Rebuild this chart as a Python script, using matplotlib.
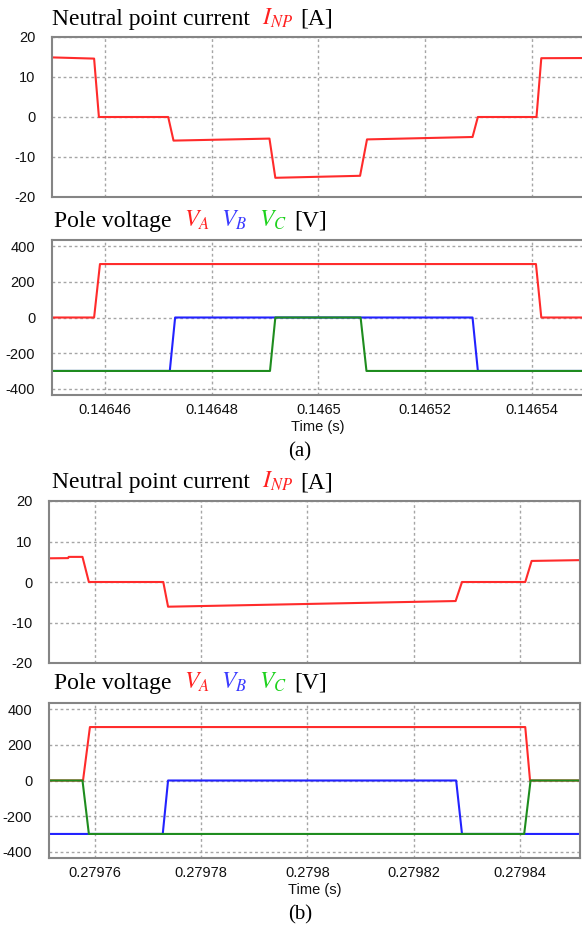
import matplotlib
matplotlib.use("Agg")
import matplotlib.pyplot as plt

# ---- data ----
# (a) neutral point current
ta_i = [0.14645, 0.1464579, 0.1464588, 0.1464718, 0.1464728, 0.1464908, 0.1464919,
        0.1465078, 0.1465091, 0.1465289, 0.1465299, 0.1465409, 0.1465418, 0.14656]
ia = [14.9, 14.6, 0.0, 0.0, -5.9, -5.4, -15.2, -14.7, -5.6, -5.0, 0.0, 0.0, 14.7, 14.8]

# (a) pole voltages
ta_va = [0.14645, 0.1464579, 0.146459, 0.1465408, 0.1465418, 0.14656]
va_a = [0, 0, 300, 300, 0, 0]
ta_vb = [0.14645, 0.1464721, 0.1464731, 0.1465289, 0.1465299, 0.14656]
vb_a = [-300, -300, 0, 0, -300, -300]
ta_vc = [0.14645, 0.1464909, 0.1464919, 0.1465079, 0.146509, 0.14656]
vc_a = [-300, -300, 0, 0, -300, -300]

# (b) neutral point current
tb_i = [0.2797514, 0.279755, 0.2797551, 0.2797577, 0.2797589, 0.2797729, 0.2797738,
        0.2798279, 0.2798291, 0.279841, 0.2798422, 0.2798513]
ib = [5.85, 5.9, 6.2, 6.2, 0.0, 0.0, -6.1, -4.7, 0.0, 0.0, 5.2, 5.4]

# (b) pole voltages
tb_va = [0.2797514, 0.2797578, 0.2797591, 0.279841, 0.2798419, 0.2798513]
va_b = [0, 0, 300, 300, 0, 0]
tb_vb = [0.2797514, 0.2797728, 0.2797738, 0.279828, 0.2798291, 0.2798513]
vb_b = [-300, -300, 0, 0, -300, -300]
tb_vc = [0.2797514, 0.2797577, 0.2797589, 0.2798408, 0.279842, 0.2798513]
vc_b = [0, 0, -300, -300, 0, 0]

xticks_a = [0.14646, 0.14648, 0.1465, 0.14652, 0.14654]
xticks_b = [0.27976, 0.27978, 0.2798, 0.27982, 0.27984]
xlim_a = (0.14645, 0.14655)
xlim_b = (0.2797514, 0.2798513)
yticks_i = [-20, -10, 0, 10, 20]
yticks_v = [-400, -200, 0, 200, 400]

W, H = 582, 931
RED, BLUE, GREEN = "#ff2b2b", "#2222ff", "#1e8c1e"

plt.rcParams["mathtext.fontset"] = "stix"
fig = plt.figure(figsize=(W / 100, H / 100), dpi=100)


def px_axes(l, t, r, b):
    return fig.add_axes([l / W, 1 - b / H, (r - l) / W, (b - t) / H])


def style(ax, xlim, xticks, ylim, yticks, show_x):
    ax.set_xlim(*xlim)
    ax.set_ylim(*ylim)
    ax.set_xticks(xticks)
    ax.set_xticklabels(["%g" % v for v in xticks] if show_x else [])
    ax.set_yticks(yticks)
    ax.set_yticklabels([str(v) for v in yticks])
    ax.tick_params(length=0, pad=12, labelsize=10.5, labelcolor="#111111")
    ax.tick_params(axis="x", pad=6)
    for lab in ax.get_xticklabels() + ax.get_yticklabels():
        lab.set_family("Liberation Sans")
    ax.grid(True, color="#a5a5a5", linestyle=(0, (2, 2)), linewidth=1.0)
    ax.set_axisbelow(True)
    for sp in ax.spines.values():
        sp.set_color("#858585")
        sp.set_linewidth(1.5)


def rich_text(x_px, y_px, parts):
    r = fig.canvas.get_renderer()
    x = x_px
    for s, c, gap in parts:
        t = fig.text(x / W, 1 - y_px / H, s, color=c, fontsize=17,
                     family="Liberation Serif", va="baseline", ha="left")
        bb = t.get_window_extent(renderer=r)
        x = bb.x1 + gap


# ---- panel (a) ----
ax1 = px_axes(52, 37, 585, 197)
ax1.plot(ta_i, ia, color=RED, lw=1.5)
style(ax1, xlim_a, xticks_a, (-20, 20), yticks_i, False)

ax2 = px_axes(52, 240, 585, 395)
ax2.plot(ta_va, va_a, color=RED, lw=1.5)
ax2.plot(ta_vb, vb_a, color=BLUE, lw=1.5)
ax2.plot(ta_vc, vc_a, color=GREEN, lw=1.5)
style(ax2, xlim_a, xticks_a, (-435, 435), yticks_v, True)

# ---- panel (b) ----
ax3 = px_axes(49, 501, 580, 663)
ax3.plot(tb_i, ib, color=RED, lw=1.5)
style(ax3, xlim_b, xticks_b, (-20, 20), yticks_i, False)

ax4 = px_axes(49, 703, 580, 858)
ax4.plot(tb_va, va_b, color=RED, lw=1.5)
ax4.plot(tb_vb, vb_b, color=BLUE, lw=1.5)
ax4.plot(tb_vc, vc_b, color=GREEN, lw=1.5)
style(ax4, xlim_b, xticks_b, (-435, 435), yticks_v, True)

# ---- titles / labels ----
cur_parts = [("Neutral point current", "black", 12), (r"$I_{NP}$", "#ff2020", 7), ("[A]", "black", 0)]
vol_parts = [("Pole voltage", "black", 12), (r"$V_A$", "#ff2020", 12), (r"$V_B$", "#3b3bff", 12),
             (r"$V_C$", "#1ed21e", 7), ("[V]", "black", 0)]
rich_text(52, 25, cur_parts)
rich_text(54, 227, vol_parts)
rich_text(52, 488, cur_parts)
rich_text(54, 689, vol_parts)

for xc, yc in [(318, 427), (315, 890)]:
    fig.text(xc / W, 1 - yc / H, "Time (s)", fontsize=10.5, family="Liberation Sans",
             color="#111111", ha="center", va="center")
fig.text(300 / W, 1 - 452 / H, "(a)", fontsize=15, family="Liberation Serif", ha="center", va="center")
fig.text(300 / W, 1 - 915 / H, "(b)", fontsize=15, family="Liberation Serif", ha="center", va="center")

fig.savefig("out.png", dpi=100)
